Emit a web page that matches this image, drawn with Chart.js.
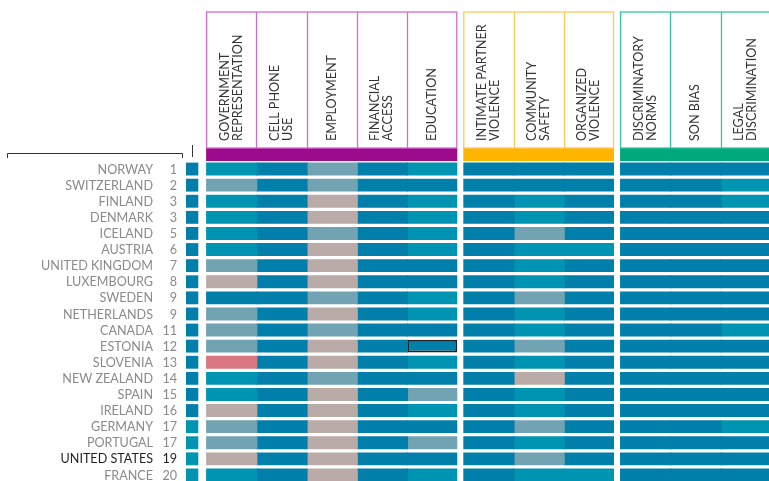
<!DOCTYPE html>
<html>
<head>
<meta charset="utf-8">
<script src="https://cdn.jsdelivr.net/npm/chart.js@4.4.1/dist/chart.umd.min.js"></script>
<style>
  html, body { margin: 0; padding: 0; overflow: hidden; background: #fff; }
</style>
</head>
<body>
<canvas id="wps" width="769" height="483"></canvas>
<script>
// rows
const countries = ['NORWAY', 'SWITZERLAND', 'FINLAND', 'DENMARK', 'ICELAND', 'AUSTRIA',
  'UNITED KINGDOM', 'LUXEMBOURG', 'SWEDEN', 'NETHERLANDS', 'CANADA', 'ESTONIA', 'SLOVENIA',
  'NEW ZEALAND', 'SPAIN', 'IRELAND', 'GERMANY', 'PORTUGAL', 'UNITED STATES', 'FRANCE'];
const ranks = [1, 2, 3, 3, 5, 6, 7, 8, 9, 9, 11, 12, 13, 14, 15, 16, 17, 17, 19, 20];
const rankTier = [4, 4, 4, 4, 4, 4, 4, 4, 4, 4, 4, 4, 4, 4, 4, 4, 3, 3, 3, 3];

// columns (header text lines) and the dimension each belongs to
const indicators = [
  ['GOVERNMENT', 'REPRESENTATION'], ['CELL PHONE', 'USE'], ['EMPLOYMENT'],
  ['FINANCIAL', 'ACCESS'], ['EDUCATION'],
  ['INTIMATE PARTNER', 'VIOLENCE'], ['COMMUNITY', 'SAFETY'], ['ORGANIZED', 'VIOLENCE'],
  ['DISCRIMINATORY', 'NORMS'], ['SON BIAS'], ['LEGAL', 'DISCRIMINATION']
];
const dimensionOf = [0, 0, 0, 0, 0, 1, 1, 1, 2, 2, 2];

// tier per country (4 = top ... 0 = bottom)
const govRep        = [3, 2, 3, 3, 3, 3, 2, 1, 4, 2, 2, 2, 0, 3, 3, 1, 2, 2, 1, 3];
const cellPhone     = [4, 4, 4, 4, 4, 4, 4, 4, 4, 4, 4, 4, 4, 4, 4, 4, 4, 4, 4, 4];
const employment    = [2, 2, 1, 1, 2, 1, 1, 1, 2, 1, 2, 1, 1, 2, 1, 1, 1, 1, 1, 1];
const finAccess     = [4, 4, 4, 4, 4, 4, 4, 4, 4, 4, 4, 4, 4, 4, 4, 4, 4, 4, 4, 4];
const education     = [3, 4, 3, 3, 3, 3, 4, 4, 3, 3, 4, 4, 3, 4, 2, 3, 4, 2, 4, 3];
const partnerViol   = [4, 4, 4, 4, 4, 4, 4, 4, 4, 4, 4, 4, 4, 4, 4, 4, 4, 4, 4, 4];
const commSafety    = [4, 4, 3, 3, 2, 3, 3, 3, 2, 3, 3, 2, 3, 1, 3, 3, 2, 3, 2, 3];
const organizedViol = [4, 4, 4, 4, 4, 3, 4, 4, 4, 4, 4, 4, 4, 4, 4, 4, 4, 4, 4, 3];
const discrimNorms  = [4, 4, 4, 4, 4, 4, 4, 4, 4, 4, 4, 4, 4, 4, 4, 4, 4, 4, 4, 4];
const sonBias       = [4, 4, 4, 4, 4, 4, 4, 4, 4, 4, 4, 4, 4, 4, 4, 4, 4, 4, 4, 4];
const legalDiscrim  = [4, 3, 3, 4, 4, 4, 4, 4, 4, 4, 3, 4, 4, 4, 4, 4, 3, 4, 4, 4];

const highlightCell = ['ESTONIA', 4];

const levels = [govRep, cellPhone, employment, finAccess, education, partnerViol,
  commSafety, organizedViol, discrimNorms, sonBias, legalDiscrim];

const tierColors = ['#D97880', '#BAAAA8', '#72A3B3', '#0094B3', '#017FAB'];
const dimLine = ['#D46CCF', '#FFC95A', '#35C3A2'];
const dimFill = ['#9C0B8B', '#FFB500', '#00A97B'];

const GAP = 0.12;
const colX = j => j + dimensionOf[j] * GAP;
// overlap neighbours inside a dimension a hair so no seam shows
const colEnd = j => colX(j) + 1 + (dimensionOf[j + 1] === dimensionOf[j] ? 0.02 : 0);

const datasets = levels.map((vals, j) => ({
  label: indicators[j].join(' '),
  data: vals.map(() => [colX(j), colEnd(j)]),
  backgroundColor: vals.map(v => tierColors[v]),
  borderColor: '#222',
  borderWidth: vals.map((v, i) => (countries[i] === highlightCell[0] && j === highlightCell[1]) ? 2 : 0),
  borderSkipped: false,
  grouped: false,
  barPercentage: 0.8,
  categoryPercentage: 1
}));
datasets.push({
  label: 'rank',
  data: ranks.map(() => [-0.4, -0.155]),
  backgroundColor: rankTier.map(v => tierColors[v]),
  borderWidth: 0,
  grouped: false,
  barPercentage: 0.8,
  categoryPercentage: 1
});

const decor = {
  id: 'decor',
  afterDraw(chart) {
    const ctx = chart.ctx;
    const x = chart.scales.x, y = chart.scales.y;
    ctx.save();

    // dimension header boxes
    [0, 1, 2].forEach(g => {
      const cols = dimensionOf.map((d, j) => d === g ? j : -1).filter(j => j >= 0);
      const x0 = x.getPixelForValue(colX(cols[0]));
      const x1 = x.getPixelForValue(colX(cols[cols.length - 1]) + 1);
      ctx.fillStyle = dimFill[g];
      ctx.fillRect(x0, 148, x1 - x0, 13);
      ctx.strokeStyle = dimLine[g];
      ctx.lineWidth = 1.3;
      ctx.strokeRect(x0 + 0.5, 12, x1 - x0 - 1, 136);
      cols.slice(1).forEach(j => {
        const xp = Math.round(x.getPixelForValue(colX(j))) + 0.5;
        ctx.beginPath(); ctx.moveTo(xp, 12); ctx.lineTo(xp, 148); ctx.stroke();
      });
    });

    // rotated column labels
    ctx.fillStyle = '#333';
    ctx.font = '12.6px Lato';
    ctx.textAlign = 'left';
    ctx.textBaseline = 'middle';
    indicators.forEach((lines, j) => {
      const cx = x.getPixelForValue(colX(j) + 0.5);
      ctx.save();
      ctx.translate(cx, 141);
      ctx.rotate(-Math.PI / 2);
      lines.forEach((t, k) => ctx.fillText(t, 0, (k - (lines.length - 1) / 2) * 13));
      ctx.restore();
    });

    // bracket above country list
    ctx.strokeStyle = '#333';
    ctx.lineWidth = 1;
    ctx.beginPath();
    ctx.moveTo(7.5, 158); ctx.lineTo(7.5, 153.5); ctx.lineTo(182.5, 153.5); ctx.lineTo(182.5, 158);
    ctx.moveTo(192.5, 145); ctx.lineTo(192.5, 157);
    ctx.stroke();

    // country names and ranks
    ctx.font = '12.6px Lato';
    ctx.textAlign = 'right';
    ctx.textBaseline = 'middle';
    countries.forEach((c, i) => {
      const yp = y.getPixelForValue(i) + 0.5;
      ctx.fillStyle = c === 'UNITED STATES' ? '#231f20' : '#8a8a8a';
      ctx.fillText(c, 153, yp);
      ctx.fillText(String(ranks[i]), 177, yp);
    });
    ctx.restore();
  }
};

new Chart(document.getElementById('wps'), {
  type: 'bar',
  data: { labels: countries, datasets: datasets },
  options: {
    indexAxis: 'y',
    responsive: false,
    animation: false,
    layout: { padding: { left: 186, top: 161, right: 0, bottom: 0 } },
    plugins: { legend: { display: false }, tooltip: { enabled: false } },
    scales: {
      x: { type: 'linear', min: -0.4, max: 11.205, display: false },
      y: { display: false, offset: true }
    }
  },
  plugins: [decor]
});
</script>
</body>
</html>
